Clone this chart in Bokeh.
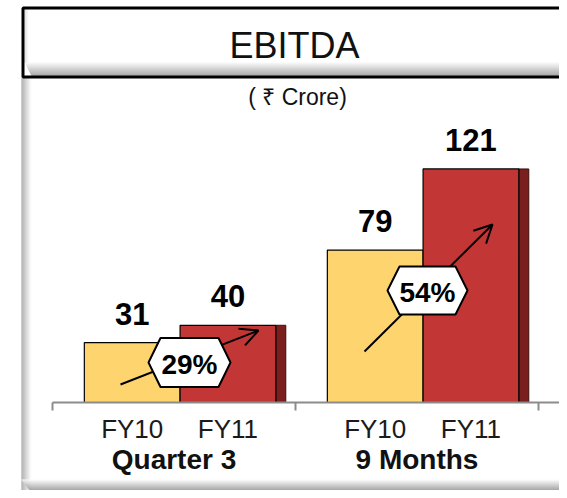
import numpy as np
from bokeh.plotting import figure
from bokeh.models import Range1d, LinearAxis, FixedTicker, Arrow, OpenHead
from bokeh.core.properties import value
from bokeh.embed import file_html
from bokeh.resources import INLINE

# ---------------- data ----------------
title = "EBITDA"
unit = "( ₹ Crore)"
groups = ["Quarter 3", "9 Months"]
series = ["FY10", "FY11"]
fy10 = [31, 79]
fy11 = [40, 121]
growth = ["29%", "54%"]

# ---------------- style / layout ----------------
FONT = "Liberation Sans"
YELLOW = "#FED46E"
RED = "#C33636"
DARK = "#7A1E1E"
AXIS_GREY = "#8c8c8c"

bar_offsets = [0.328, 0.722]   # bar centre inside a group (group = 1 unit)
bar_w = 0.394
strip_w = 0.041

W, H = 559, 490
p = figure(width=W, height=H, output_backend="svg", toolbar_location=None,
           x_range=Range1d(-0.2140, 2.0864), y_range=Range1d(-45.60, 208.29),
           x_axis_type=None, y_axis_type=None, min_border=0,
           outline_line_color=None, background_fill_color="white",
           border_fill_color="white")
p.extra_x_ranges = {"px": Range1d(0, W)}
p.extra_y_ranges = {"px": Range1d(H, 0)}
PX = dict(x_range_name="px", y_range_name="px")


def grad(c0, c1, n):
    a = np.array([int(c0[i:i + 2], 16) for i in (1, 3, 5)], float)
    b = np.array([int(c1[i:i + 2], 16) for i in (1, 3, 5)], float)
    out = []
    for t in np.linspace(0, 1, n):
        c = a + (b - a) * t
        out.append("#%02x%02x%02x" % tuple(int(round(v)) for v in c))
    return out


# ---- panel frame (left shade, bottom shade) ----
lx = np.arange(21, 31)
p.quad(left=lx, right=lx + 1, top=77, bottom=490,
       fill_color=grad("#9a9a9a", "#fbfbfb", len(lx)), line_color=None, **PX)
by = np.arange(479, 490)
p.quad(left=21 + (by - 479) * 0.8, right=W, top=by, bottom=by + 1,
       fill_color=grad("#fbfbfb", "#8a8a8a", len(by)), line_color=None, **PX)

# ---- title box ----
p.quad(left=[22.5], right=[W + 20], top=[7.5], bottom=[76.5],
       fill_color="white", line_color=None, **PX)
ty = np.arange(61, 76)
p.quad(left=24 + (ty - 61) * 0.5, right=W + 20, top=ty, bottom=ty + 1,
       fill_color=grad("#ffffff", "#8a8a8a", len(ty)), line_color=None, **PX)
tlx = np.arange(24, 29)
p.quad(left=tlx, right=tlx + 1, top=9, bottom=62,
       fill_color=grad("#d8d8d8", "#ffffff", len(tlx)), line_color=None, **PX)
p.quad(left=[22.5], right=[W + 20], top=[7.5], bottom=[76.5],
       fill_color=None, line_color="black", line_width=3, **PX)
p.text(x=[294], y=[44.5], text=[title], text_font=value(FONT),
       text_font_size="36px", text_align="center", text_baseline="middle",
       text_color="#111111", **PX)
p.text(x=[297], y=[96], text=[unit], text_font=value(FONT),
       text_font_size="23px", text_align="center", text_baseline="middle",
       text_color="#111111", **PX)

# ---- bars ----
gi = np.arange(len(groups))
x10 = [float(i + bar_offsets[0]) for i in gi]
x11 = [float(i + bar_offsets[1]) for i in gi]
p.vbar(x=x10, top=fy10, bottom=0, width=bar_w, fill_color=YELLOW,
       line_color="black", line_width=1.2)
p.quad(left=[x + bar_w / 2 for x in x11], right=[x + bar_w / 2 + strip_w for x in x11],
       top=fy11, bottom=0, fill_color=DARK, line_color="#3a0d0d", line_width=1)
p.vbar(x=x11, top=fy11, bottom=0, width=bar_w, fill_color=RED,
       line_color="black", line_width=1.2)

# value labels
p.text(x=x10 + x11, y=fy10 + fy11, text=[str(v) for v in fy10 + fy11],
       y_offset=-29, text_font=value(FONT), text_font_size="31px",
       text_font_style="bold", text_align="center", text_baseline="middle",
       text_color="black")

# ---- axes ----
base_axis = LinearAxis(fixed_location=0,
                       ticker=FixedTicker(ticks=[float(i) for i in range(len(groups) + 1)]),
                       bounds=(0, 2.09), axis_line_color=AXIS_GREY, axis_line_width=2,
                       major_tick_line_color=AXIS_GREY, major_tick_line_width=2,
                       major_tick_in=0, major_tick_out=8, minor_tick_line_color=None,
                       major_label_text_color=None)
p.add_layout(base_axis, "below")

fy_ticks = sorted(x10 + x11)
fy_labels = {}
for x in x10:
    fy_labels[x] = series[0]
for x in x11:
    fy_labels[x] = series[1]
fy_axis = LinearAxis(fixed_location=0, ticker=FixedTicker(ticks=fy_ticks),
                     major_label_overrides=fy_labels, axis_line_color=None,
                     major_tick_line_color=None, minor_tick_line_color=None,
                     major_tick_in=0, major_tick_out=0, major_label_standoff=12,
                     major_label_text_font=FONT, major_label_text_font_size="26px",
                     major_label_text_color="#1a1a1a")
p.add_layout(fy_axis, "below")

g_ticks = [float(i + 0.5) for i in gi]
g_axis = LinearAxis(fixed_location=0, ticker=FixedTicker(ticks=g_ticks),
                    major_label_overrides={t: g for t, g in zip(g_ticks, groups)},
                    axis_line_color=None, major_tick_line_color=None,
                    minor_tick_line_color=None, major_tick_in=0, major_tick_out=0,
                    major_label_standoff=42, major_label_text_font=FONT,
                    major_label_text_font_size="28px",
                    major_label_text_font_style="bold",
                    major_label_text_color="#111111")
p.add_layout(g_axis, "below")

# ---- growth arrows & badges (annotation layout in canvas pixels) ----
arrows_px = [(120, 384, 258, 330), (364, 351, 492, 224)]
badges_px = [(189, 362, 41, 24.5), (427, 290, 40, 24)]
for (x0, y0, x1, y1) in arrows_px:
    p.add_layout(Arrow(x_start=x0, y_start=y0, x_end=x1, y_end=y1, line_width=2,
                       line_color="black",
                       end=OpenHead(size=18, line_width=2, line_color="black"), **PX))
hx, hy = [], []
for (cx, cy, hw, hh) in badges_px:
    inset = 12
    hx.append([cx - hw, cx - hw + inset, cx + hw - inset, cx + hw, cx + hw - inset, cx - hw + inset])
    hy.append([cy, cy - hh, cy - hh, cy, cy + hh, cy + hh])
p.patches(xs=hx, ys=hy, fill_color="white", line_color="black", line_width=2,
          level="overlay", **PX)
p.text(x=[b[0] for b in badges_px], y=[b[1] + 1.5 for b in badges_px], text=growth,
       text_font=value(FONT), text_font_size="28px", text_font_style="bold",
       text_align="center", text_baseline="middle", text_color="black",
       level="overlay", **PX)

open("out.html", "w").write(file_html(p, INLINE))
